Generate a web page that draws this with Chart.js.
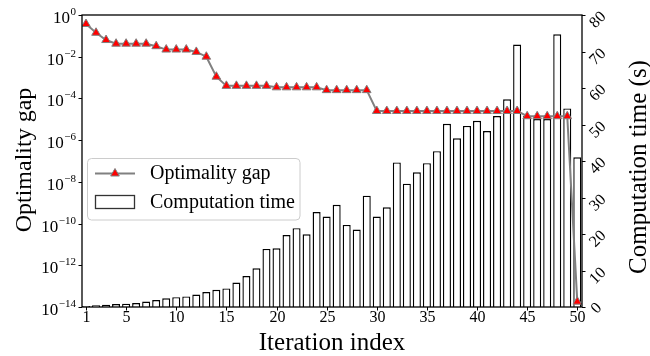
<!DOCTYPE html>
<html>
<head>
<meta charset="utf-8">
<script src="https://cdn.jsdelivr.net/npm/chart.js@4.4.1/dist/chart.umd.min.js"></script>
<style>
  html, body { margin: 0; padding: 0; background: #fff; }
  canvas { display: block; }
</style>
</head>
<body>
<canvas id="chart" width="650" height="356"></canvas>
<script>
// Iteration index (x)
const iterations = [1, 2, 3, 4, 5, 6, 7, 8, 9, 10,
  11, 12, 13, 14, 15, 16, 17, 18, 19, 20,
  21, 22, 23, 24, 25, 26, 27, 28, 29, 30,
  31, 32, 33, 34, 35, 36, 37, 38, 39, 40,
  41, 42, 43, 44, 45, 46, 47, 48, 49, 50];

// Optimality gap (left, log axis)
const optimalityGap = [0.37, 0.14, 0.063, 0.042, 0.042, 0.042, 0.042, 0.032, 0.022, 0.022,
  0.022, 0.017, 0.010, 0.0011, 4.0e-4, 4.0e-4, 4.0e-4, 4.0e-4, 4.0e-4, 3.4e-4,
  3.4e-4, 3.4e-4, 3.4e-4, 3.4e-4, 2.5e-4, 2.5e-4, 2.5e-4, 2.5e-4, 2.5e-4, 2.5e-5,
  2.5e-5, 2.5e-5, 2.5e-5, 2.5e-5, 2.5e-5, 2.5e-5, 2.5e-5, 2.5e-5, 2.5e-5, 2.5e-5,
  2.5e-5, 2.5e-5, 2.5e-5, 2.5e-5, 1.4e-5, 1.4e-5, 1.4e-5, 1.4e-5, 1.4e-5, 1.8e-14];

// Computation time in seconds (right axis)
const computationTime = [0.3, 0.5, 0.6, 0.8, 0.9, 1.1, 1.5, 1.9, 2.4, 2.7,
  2.9, 3.4, 4.1, 4.7, 5.1, 6.7, 8.5, 10.6, 15.9, 16.1,
  19.7, 21.6, 19.9, 26.0, 24.8, 28.0, 22.5, 21.2, 30.5, 24.8,
  27.3, 39.6, 33.8, 36.9, 39.4, 42.7, 50.2, 46.2, 49.6, 51.0,
  48.2, 52.3, 56.9, 71.9, 52.4, 51.5, 51.5, 74.7, 54.4, 41.0];

// tick labels
const xTicks = [1, 5, 10, 15, 20, 25, 30, 35, 40, 45, 50];
const gapExponents = [0, -2, -4, -6, -8, -10, -12, -14];
const timeTicks = [0, 10, 20, 30, 40, 50, 60, 70, 80];

const SERIF = '"Liberation Serif", "DejaVu Serif", serif';
const LINE_GREY = '#808080';

function drawTriangle(ctx, x, y, r) {
  ctx.beginPath();
  ctx.moveTo(x, y - r);
  ctx.lineTo(x + r * 0.866, y + r * 0.5);
  ctx.lineTo(x - r * 0.866, y + r * 0.5);
  ctx.closePath();
  ctx.fillStyle = '#ff0000';
  ctx.fill();
  ctx.lineWidth = 1;
  ctx.strokeStyle = LINE_GREY;
  ctx.stroke();
}

// draws spines, ticks, labels, titles and legend
const decorations = {
  id: 'decorations',
  afterDraw(chart) {
    const ctx = chart.ctx;
    const area = chart.chartArea;
    const xs = chart.scales.x, ys = chart.scales.y, ys1 = chart.scales.y1;
    ctx.save();

    // box around plot
    ctx.strokeStyle = '#000';
    ctx.lineWidth = 1.3;
    ctx.strokeRect(area.left, area.top, area.right - area.left, area.bottom - area.top);

    ctx.lineWidth = 1;
    ctx.fillStyle = '#000';

    // x ticks
    ctx.font = '16px ' + SERIF;
    ctx.textAlign = 'center';
    ctx.textBaseline = 'alphabetic';
    xTicks.forEach(v => {
      const px = Math.round(xs.getPixelForValue(v)) + 0.5;
      ctx.beginPath();
      ctx.moveTo(px, area.bottom);
      ctx.lineTo(px, area.bottom + 3.5);
      ctx.stroke();
      ctx.fillText(String(v), px, area.bottom + 15);
    });

    // left log ticks with superscripts
    gapExponents.forEach(e => {
      const py = Math.round(ys.getPixelForValue(Math.pow(10, e))) + 0.5;
      ctx.beginPath();
      ctx.moveTo(area.left, py);
      ctx.lineTo(area.left - 3.5, py);
      ctx.stroke();
      const sup = e === 0 ? '0' : '\u2212' + String(-e);
      ctx.textAlign = 'right';
      ctx.font = '11px ' + SERIF;
      const supW = ctx.measureText(sup).width;
      const right = area.left - 6;
      ctx.fillText(sup, right, py - 1);
      ctx.font = '17px ' + SERIF;
      ctx.fillText('10', right - supW - 0.5, py + 7.5);
    });

    // right linear ticks, rotated labels
    ctx.font = '16px ' + SERIF;
    timeTicks.forEach(v => {
      const py = Math.round(ys1.getPixelForValue(v)) + 0.5;
      ctx.beginPath();
      ctx.moveTo(area.right, py);
      ctx.lineTo(area.right + 3.5, py);
      ctx.stroke();
      const label = String(v);
      const one = label.length === 1;
      ctx.save();
      ctx.translate(one ? 596.5 : 598, py + (one ? 1 : 4.5));
      ctx.rotate(-Math.PI / 4);
      ctx.textAlign = 'center';
      ctx.textBaseline = 'middle';
      ctx.fillText(label, 0, 0);
      ctx.restore();
    });

    // axis titles
    ctx.textAlign = 'center';
    ctx.textBaseline = 'alphabetic';
    ctx.font = '25px ' + SERIF;
    ctx.fillText('Iteration index', (area.left + area.right) / 2, 350);

    ctx.save();
    ctx.translate(31, 160);
    ctx.rotate(-Math.PI / 2);
    ctx.font = '24px ' + SERIF;
    ctx.fillText('Optimality gap', 0, 0);
    ctx.restore();

    ctx.save();
    ctx.translate(645.5, 167);
    ctx.rotate(-Math.PI / 2);
    ctx.font = '25px ' + SERIF;
    ctx.fillText('Computation time (s)', 0, 0);
    ctx.restore();

    // legend
    const lx = 87.5, ly = 158.5, lw = 212.5, lh = 61.5;
    ctx.beginPath();
    ctx.roundRect(lx, ly, lw, lh, 4);
    ctx.fillStyle = 'rgba(255,255,255,0.8)';
    ctx.fill();
    ctx.strokeStyle = '#cccccc';
    ctx.lineWidth = 1;
    ctx.stroke();

    ctx.strokeStyle = LINE_GREY;
    ctx.lineWidth = 2;
    ctx.beginPath();
    ctx.moveTo(95, 173.5);
    ctx.lineTo(135, 173.5);
    ctx.stroke();
    drawTriangle(ctx, 115, 173.5, 5);

    ctx.fillStyle = '#fff';
    ctx.fillRect(95.5, 195.5, 39, 13);
    ctx.strokeStyle = '#333';
    ctx.lineWidth = 1.3;
    ctx.strokeRect(95.5, 195.5, 39, 13);

    ctx.fillStyle = '#000';
    ctx.font = '20px ' + SERIF;
    ctx.textAlign = 'left';
    ctx.fillText('Optimality gap', 150, 179);
    ctx.fillText('Computation time', 150, 207.5);

    ctx.restore();
  }
};

const ctx = document.getElementById('chart').getContext('2d');
new Chart(ctx, {
  type: 'bar',
  data: {
    datasets: [
      {
        type: 'line',
        label: 'Optimality gap',
        data: iterations.map((it, i) => ({ x: it, y: optimalityGap[i] })),
        yAxisID: 'y',
        xAxisID: 'x',
        borderColor: LINE_GREY,
        borderWidth: 2,
        pointStyle: 'triangle',
        pointRadius: 5,
        pointBackgroundColor: '#ff0000',
        pointBorderColor: LINE_GREY,
        pointBorderWidth: 1,
        tension: 0,
        order: 0
      },
      {
        type: 'bar',
        label: 'Computation time',
        data: iterations.map((it, i) => ({ x: it, y: computationTime[i] })),
        yAxisID: 'y1',
        xAxisID: 'x',
        backgroundColor: '#ffffff',
        borderColor: '#000000',
        borderWidth: 1.4,
        barPercentage: 0.8,
        categoryPercentage: 1.0,
        order: 1
      }
    ]
  },
  options: {
    responsive: false,
    animation: false,
    devicePixelRatio: 1,
    layout: { padding: { top: 15, left: 0, right: 0, bottom: 0 } },
    plugins: {
      legend: { display: false },
      tooltip: { enabled: false }
    },
    scales: {
      x: {
        type: 'linear',
        min: 0.6,
        max: 50.47,
        offset: false,
        ticks: { display: false },
        grid: { display: false, offset: false },
        border: { display: false },
        afterFit: s => { s.height = 49; }
      },
      y: {
        type: 'logarithmic',
        position: 'left',
        min: 1e-14,
        max: 1,
        ticks: { display: false },
        grid: { display: false },
        border: { display: false },
        afterFit: s => { s.width = 82; }
      },
      y1: {
        type: 'linear',
        position: 'right',
        min: 0,
        max: 80,
        ticks: { display: false },
        grid: { display: false },
        border: { display: false },
        afterFit: s => { s.width = 68; }
      }
    }
  },
  plugins: [decorations]
});
</script>
</body>
</html>
